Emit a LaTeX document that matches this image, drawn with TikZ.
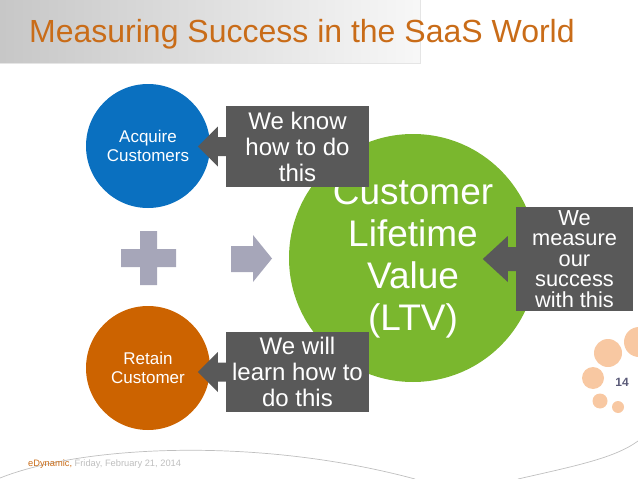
\documentclass[tikz,border=0pt]{standalone}
\usepackage{fontspec}
\setmainfont{Liberation Sans}
\usetikzlibrary{calc}
\definecolor{titleorange}{RGB}{201,108,24}
\definecolor{acqblue}{RGB}{10,112,192}
\definecolor{retorange}{RGB}{204,99,0}
\definecolor{ltvgreen}{RGB}{122,183,46}
\definecolor{calloutgray}{RGB}{89,89,89}
\definecolor{plusgray}{RGB}{166,166,185}
\definecolor{peach}{RGB}{248,200,162}
\definecolor{pagegray}{RGB}{90,90,120}
\definecolor{footgray}{RGB}{190,190,190}

\begin{document}
\begin{tikzpicture}[x=1pt, y=-1pt,
disc/.style={circle, inner sep=0pt, minimum size=124pt, text=white, align=center, font=\fontsize{17}{19}\selectfont},
callout/.style={fill=calloutgray, text=white, align=center, inner sep=0pt, minimum width=143pt, minimum height=81pt, font=\fontsize{24}{26}\selectfont}]
\useasboundingbox (0,0) rectangle (638,479);
\clip (0,0) rectangle (638,479);
\shade[left color=black!22, right color=black!3] (0,0) rectangle (420,63);
\draw[black!10] (0,63) -- (420,63) -- (420,0);
\node[anchor=base west, inner sep=0pt, text=titleorange, font=\fontsize{32}{36}\selectfont] (title) at (29,42.5) {Measuring Success in the SaaS World};

\node[disc, fill=ltvgreen, minimum size=248pt, font=\fontsize{37}{42}\selectfont] (ltv) at (413,258) {Customer\\Lifetime\\Value\\(LTV)};
\node[disc, fill=acqblue] (acquire) at (148,146) {Acquire\\Customers};
\node[disc, fill=retorange] (retain) at (148,368) {Retain\\Customer};

\fill[plusgray] (140,231) rectangle (157,285) (121,249) rectangle (176,267);
\fill[plusgray] (231,246) -- (253,246) -- (253,235) -- (272,258.5) -- (253,282) -- (253,272) -- (231,272) -- cycle;

\node[callout] (know) at (297.5,146.5) {We know\\how to do\\this};
\node[callout, minimum height=80pt] (learn) at (297.5,372) {We will\\learn how to\\do this};
\node[callout, minimum width=117pt, minimum height=104pt, font=\fontsize{21.8}{20.5}\selectfont] (measure) at (574.5,259) {We\\measure\\our\\success\\with this};
\foreach \b/\s/\h/\t in {know/9.5/20/28, learn/9.5/20/28, measure/12/23/33}
  \fill[calloutgray] ($(\b.west)+(0.5,-\s)$) -- ($(\b.west)+(-8,-\s)$) -- ($(\b.west)+(-8,-\h)$) -- ($(\b.west)+(-\t,0)$)
    -- ($(\b.west)+(-8,\h)$) -- ($(\b.west)+(-8,\s)$) -- ($(\b.west)+(0.5,\s)$) -- cycle;

\fill[peach] (639,342) circle (15) (608,353) circle (14) (593,378) circle (11) (600,401) circle (7.5) (618,407) circle (6);
\node[text=pagegray, font=\bfseries\fontsize{12}{14}\selectfont] (page) at (622,382) {14};

\draw[black!25, line width=0.7pt] (0,478) .. controls (80,446) and (255,436) .. (415,479);
\draw[black!25, line width=0.7pt] (518,479) .. controls (575,466) and (615,458) .. (638,441);
\node[anchor=base west, inner sep=0pt, text=footgray, font=\fontsize{9.3}{11}\selectfont] (date) at (28,466) {\textcolor{titleorange}{eDynamic,} Friday, February 21, 2014};
\end{tikzpicture}
\end{document}
